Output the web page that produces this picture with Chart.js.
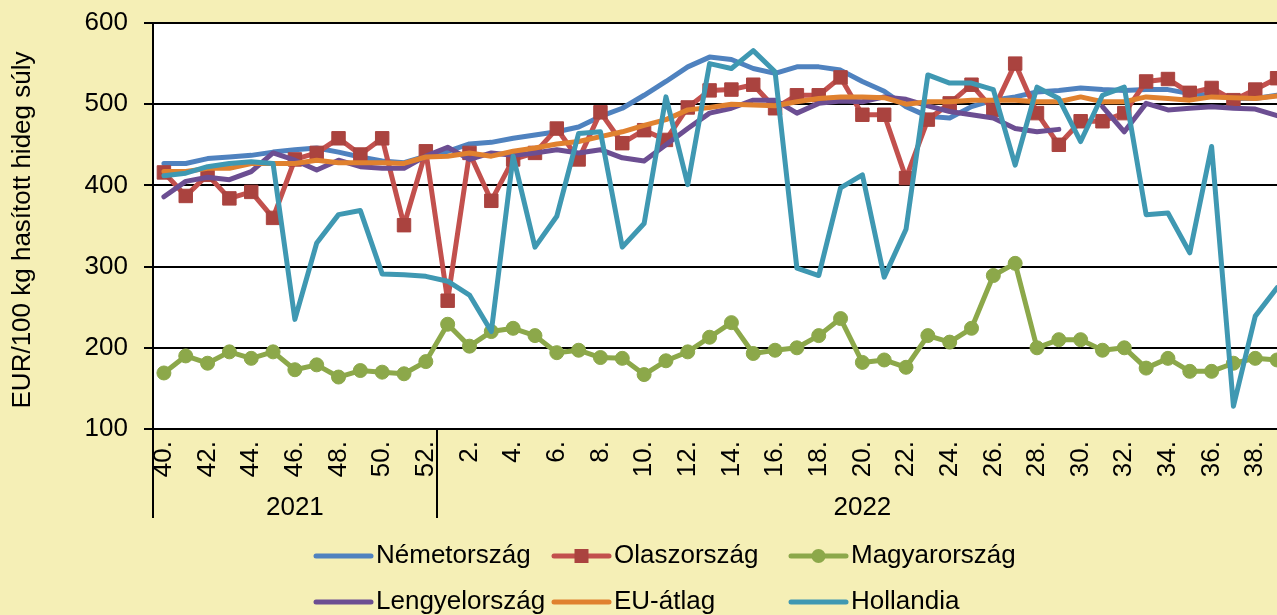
<!DOCTYPE html>
<html>
<head>
<meta charset="utf-8">
<script src="https://cdn.jsdelivr.net/npm/chart.js@4/dist/chart.umd.min.js"></script>
<style>
    html, body { margin: 0; padding: 0; background: #f5efb6; overflow: hidden; }
    #wrap { width: 1300px; height: 615px; }
</style>
</head>
<body>
<div id="wrap"><canvas id="pigChart" width="1300" height="615"></canvas></div>
<script>
const weeks = ["40.", "41.", "42.", "43.", "44.", "45.", "46.", "47.", "48.", "49.", "50.", "51.", "52.",
    "1.", "2.", "3.", "4.", "5.", "6.", "7.", "8.", "9.", "10.", "11.", "12.", "13.", "14.", "15.", "16.",
    "17.", "18.", "19.", "20.", "21.", "22.", "23.", "24.", "25.", "26.", "27.", "28.", "29.", "30.",
    "31.", "32.", "33.", "34.", "35.", "36.", "37.", "38.", "39."];

const years = ["2021", "2022"];
const yearStart = [0, 13]; // first week index of each year

const nemetorszag = [427, 427, 433, 435, 437, 441, 444, 446, 441, 435, 430, 428, 436,
    442, 451, 453, 458, 462, 466, 472, 485, 495, 511, 528, 546, 558, 555, 544, 538, 546, 546, 542, 528,
    516, 497, 485, 483, 497, 505, 509, 515, 517, 520, 518, 517, 518, 518, 513, 511, 507, 507, 511];
const olaszorszag = [416, 387, 413, 384, 392, 360, 432, 440, 458, 438, 458, 351, 442,
    258, 440, 381, 432, 440, 470, 432, 490, 452, 468, 456, 496, 517, 518, 524, 495, 511, 511, 533, 487,
    487, 409, 481, 501, 524, 493, 550, 489, 450, 479, 479, 489, 528, 531, 514, 520, 505, 518, 532];
const magyarorszag = [169, 190, 181, 195, 187, 195, 173, 179, 164, 172, 170, 168, 183,
    229, 202, 220, 224, 215, 194, 197, 188, 187, 167, 184, 195, 213, 231, 193, 197, 200, 215, 236, 182,
    185, 176, 215, 207, 224, 289, 304, 200, 210, 210, 197, 200, 175, 187, 171, 171, 181, 187, 185];
const lengyelorszag = [386, 405, 410, 407, 417, 440, 431, 419, 431, 423, 421, 421, 436,
    447, 432, 440, 437, 440, 444, 440, 444, 434, 430, 450, 470, 489, 495, 505, 505, 489, 501, 504, 503,
    509, 506, 498, 491, 487, 483, 470, 466, 469, null, 497, 466, 501, 493, 495, 497, 495, 494, 486];
const euAtlag = [417, 417, 421, 421, 427, 427, 427, 431, 428, 428, 428, 427, 435,
    436, 440, 436, 442, 446, 451, 454, 460, 466, 474, 481, 493, 496, 500, 499, 498, 503, 507, 509, 509,
    508, 500, 503, 503, 505, 505, 505, 503, 503, 509, 503, 503, 509, 507, 505, 509, 508, 507, 510];
const hollandia = [412, 415, 423, 427, 429, 427, 235, 329, 364, 369, 291, 290, 288,
    282, 265, 220, 436, 324, 362, 464, 466, 324, 353, 509, 401, 550, 544, 566, 540, 298, 289, 397, 413,
    287, 346, 536, 526, 526, 518, 425, 521, 507, 454, 511, 521, 364, 366, 317, 448, 128, 239, 274];

const FONT = "'Liberation Sans', Arial, sans-serif";

const series = (label, data, color, order, extra) => Object.assign({
    label: label,
    data: data,
    borderColor: color,
    backgroundColor: color,
    borderWidth: 5,
    borderJoinStyle: "round",
    borderCapStyle: "round",
    pointRadius: 0,
    tension: 0,
    spanGaps: false,
    order: order,
}, extra || {});

// paints page colour and the white plot area
const bgPlugin = {
    id: "bg",
    beforeDraw: (chart) => {
        const { ctx, chartArea: a } = chart;
        ctx.save();
        ctx.fillStyle = "#f5efb6";
        ctx.fillRect(0, 0, chart.width, chart.height);
        ctx.fillStyle = "#ffffff";
        ctx.fillRect(a.left, a.top, a.right - a.left, a.bottom - a.top);
        ctx.restore();
    },
};

// year groups under the week labels, y title and the legend
const extrasPlugin = {
    id: "extras",
    afterDraw: (chart) => {
        const { ctx, chartArea: a } = chart;
        const x = chart.scales.x;
        const step = (a.right - a.left) / weeks.length;
        ctx.save();
        ctx.strokeStyle = "#000";
        ctx.lineWidth = 2;
        ctx.fillStyle = "#000";
        ctx.font = "26px " + FONT;
        ctx.textAlign = "center";
        ctx.textBaseline = "middle";
        years.forEach((yr, i) => {
            const left = x.getPixelForValue(yearStart[i]) - step / 2;
            const last = i + 1 < years.length ? yearStart[i + 1] - 1 : weeks.length - 1;
            const right = x.getPixelForValue(last) + step / 2;
            ctx.beginPath();
            ctx.moveTo(Math.round(left), a.bottom);
            ctx.lineTo(Math.round(left), 518);
            ctx.stroke();
            ctx.fillText(yr, (left + right) / 2, 508);
        });

        ctx.save();
        ctx.translate(23, 230);
        ctx.rotate(-Math.PI / 2);
        ctx.fillText("EUR/100 kg hasított hideg súly", 0, 0);
        ctx.restore();

        const colX = [316, 554, 791];
        const rowY = [556, 602];
        chart.data.datasets.forEach((ds, i) => {
            const lx = colX[i % 3];
            const ly = rowY[Math.floor(i / 3)];
            ctx.strokeStyle = ds.borderColor;
            ctx.lineWidth = 5;
            ctx.lineCap = "round";
            ctx.beginPath();
            ctx.moveTo(lx, ly);
            ctx.lineTo(lx + 55, ly);
            ctx.stroke();
            if (ds.pointStyle === "rect") {
                ctx.fillStyle = ds.pointBackgroundColor;
                ctx.fillRect(lx + 27.5 - 7, ly - 7, 14, 14);
            } else if (ds.pointStyle === "circle") {
                ctx.fillStyle = ds.pointBackgroundColor;
                ctx.beginPath();
                ctx.arc(lx + 27.5, ly, 7, 0, Math.PI * 2);
                ctx.fill();
            }
            ctx.fillStyle = "#000";
            ctx.textAlign = "left";
            ctx.fillText(ds.label, lx + 60, ly);
        });
        ctx.restore();
    },
};

const config = {
    type: "line",
    data: {
        labels: weeks,
        datasets: [
            series("Németország", nemetorszag, "#4f82bf", 6),
            series("Olaszország", olaszorszag, "#c2504d", 5, {
                pointStyle: "rect", pointRadius: 9.5, pointBackgroundColor: "#aa433f",
                pointBorderColor: "#aa433f", pointBorderWidth: 1,
            }),
            series("Magyarország", magyarorszag, "#8ca84a", 4, {
                pointStyle: "circle", pointRadius: 7, pointBackgroundColor: "#8ca84a",
                pointBorderColor: "#8ca84a", pointBorderWidth: 1,
            }),
            series("Lengyelország", lengyelorszag, "#6c4e92", 3),
            series("EU-átlag", euAtlag, "#e0812f", 2),
            series("Hollandia", hollandia, "#3f98b2", 1),
        ],
    },
    options: {
        responsive: false,
        animation: false,
        events: [],
        layout: { padding: { top: 23, right: 12, bottom: 86, left: 0 } },
        plugins: { legend: { display: false }, tooltip: { enabled: false } },
        scales: {
            x: {
                offset: true,
                grid: { display: false, drawTicks: false, offset: true },
                border: { display: false },
                ticks: {
                    autoSkip: false,
                    minRotation: 90,
                    maxRotation: 90,
                    padding: 12,
                    color: "#000",
                    font: { size: 26, family: FONT },
                    callback: function (v) {
                        const lab = this.getLabelForValue(v);
                        return parseInt(lab) % 2 === 0 ? lab : "";
                    },
                },
                afterFit: (s) => {
                    s.height = 100;
                    s.paddingLeft = 0;
                    s.paddingRight = 0;
                },
            },
            y: {
                min: 100,
                max: 600,
                ticks: { stepSize: 100, padding: 16, color: "#000", font: { size: 26, family: FONT } },
                grid: { color: "#000", lineWidth: 2, tickLength: 9, tickColor: "#000", tickWidth: 2 },
                border: { color: "#000", width: 2 },
                afterFit: (s) => {
                    s.width = 153;
                    s.paddingTop = 0;
                    s.paddingBottom = 0;
                },
            },
        },
    },
    plugins: [bgPlugin, extrasPlugin],
};

const pigChart = new Chart(document.getElementById("pigChart"), config);
</script>
</body>
</html>
